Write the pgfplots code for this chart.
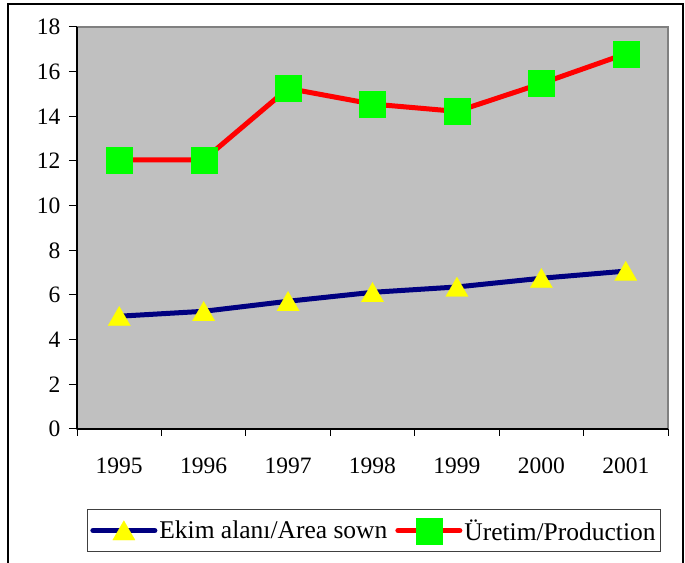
\documentclass[border=0pt]{standalone}
\usepackage{pgfplots}
\pgfplotsset{compat=1.18}
\usepackage{fontspec}
\setmainfont{Liberation Serif}
\definecolor{plotgray}{HTML}{C0C0C0}
\definecolor{bordergray}{HTML}{808080}
\definecolor{navyline}{HTML}{000080}
\definecolor{redline}{HTML}{FF0000}
\definecolor{greenmark}{HTML}{00FF00}
\definecolor{yellowmark}{HTML}{FFFF00}
\pgfplotstableread{
idx area prod
0 5.05 12.05
1 5.27 12.05
2 5.72 15.25
3 6.12 14.55
4 6.36 14.22
5 6.75 15.47
6 7.07 16.80
}\datatable
\begin{document}
\begin{tikzpicture}
\useasboundingbox (0bp,0bp) rectangle (685bp,563bp);
\draw[line width=1.5bp] (8bp,-20bp) -- (8bp,559bp) -- (683bp,559bp) -- (683bp,-20bp);
\begin{axis}[
  at={(77bp,134bp)}, anchor=south west,
  scale only axis, width=591bp, height=402bp,
  xmin=-0.5, xmax=6.5, ymin=0, ymax=18,
  axis lines=left,
  axis line style={-, black, line width=1.2bp},
  axis background/.style={fill=plotgray, draw=bordergray, line width=1.5bp},
  xtick={0,...,6},
  xticklabels={1995,1996,1997,1998,1999,2000,2001},
  minor xtick={-0.5,0.5,...,6.5},
  major x tick style={draw=none},
  minor tick length=7bp,
  major tick length=8bp,
  tick align=outside,
  tick style={black, line width=1bp},
  ytick={0,2,...,18},
  /pgf/number format/assume math mode=true,
  tick label style={font=\fontsize{23.5bp}{27bp}\selectfont},
  xticklabel style={yshift=-17bp},
  yticklabel style={xshift=-5bp},
  legend style={at={(0.5025,-0.199)}, anchor=north, legend columns=2,
    draw=black!75, line width=1bp, fill=white,
    font=\fontsize{25.5bp}{29bp}\selectfont,
    inner xsep=3bp, inner ysep=8bp,
    /tikz/every even column/.append style={column sep=6bp}},
  legend image code/.code={\draw[mark repeat=2,mark phase=2,line cap=round] plot coordinates {(0bp,0bp) (31bp,0bp) (62bp,0bp)};},
  clip=false,
]
\addplot[navyline, line width=5bp, mark=triangle*, mark size=13bp,
  mark options={fill=yellowmark, draw=yellowmark, line width=0.1pt, yshift=-3bp}]
  table[x=idx, y=area] {\datatable};
\addlegendentry{Ekim alanı/Area sown}
\addplot[redline, line width=5bp, mark=square*, mark size=13bp,
  mark options={fill=greenmark, draw=greenmark, line width=0.1pt}]
  table[x=idx, y=prod] {\datatable};
\addlegendentry{Üretim/Production}
\end{axis}
\end{tikzpicture}
\end{document}
